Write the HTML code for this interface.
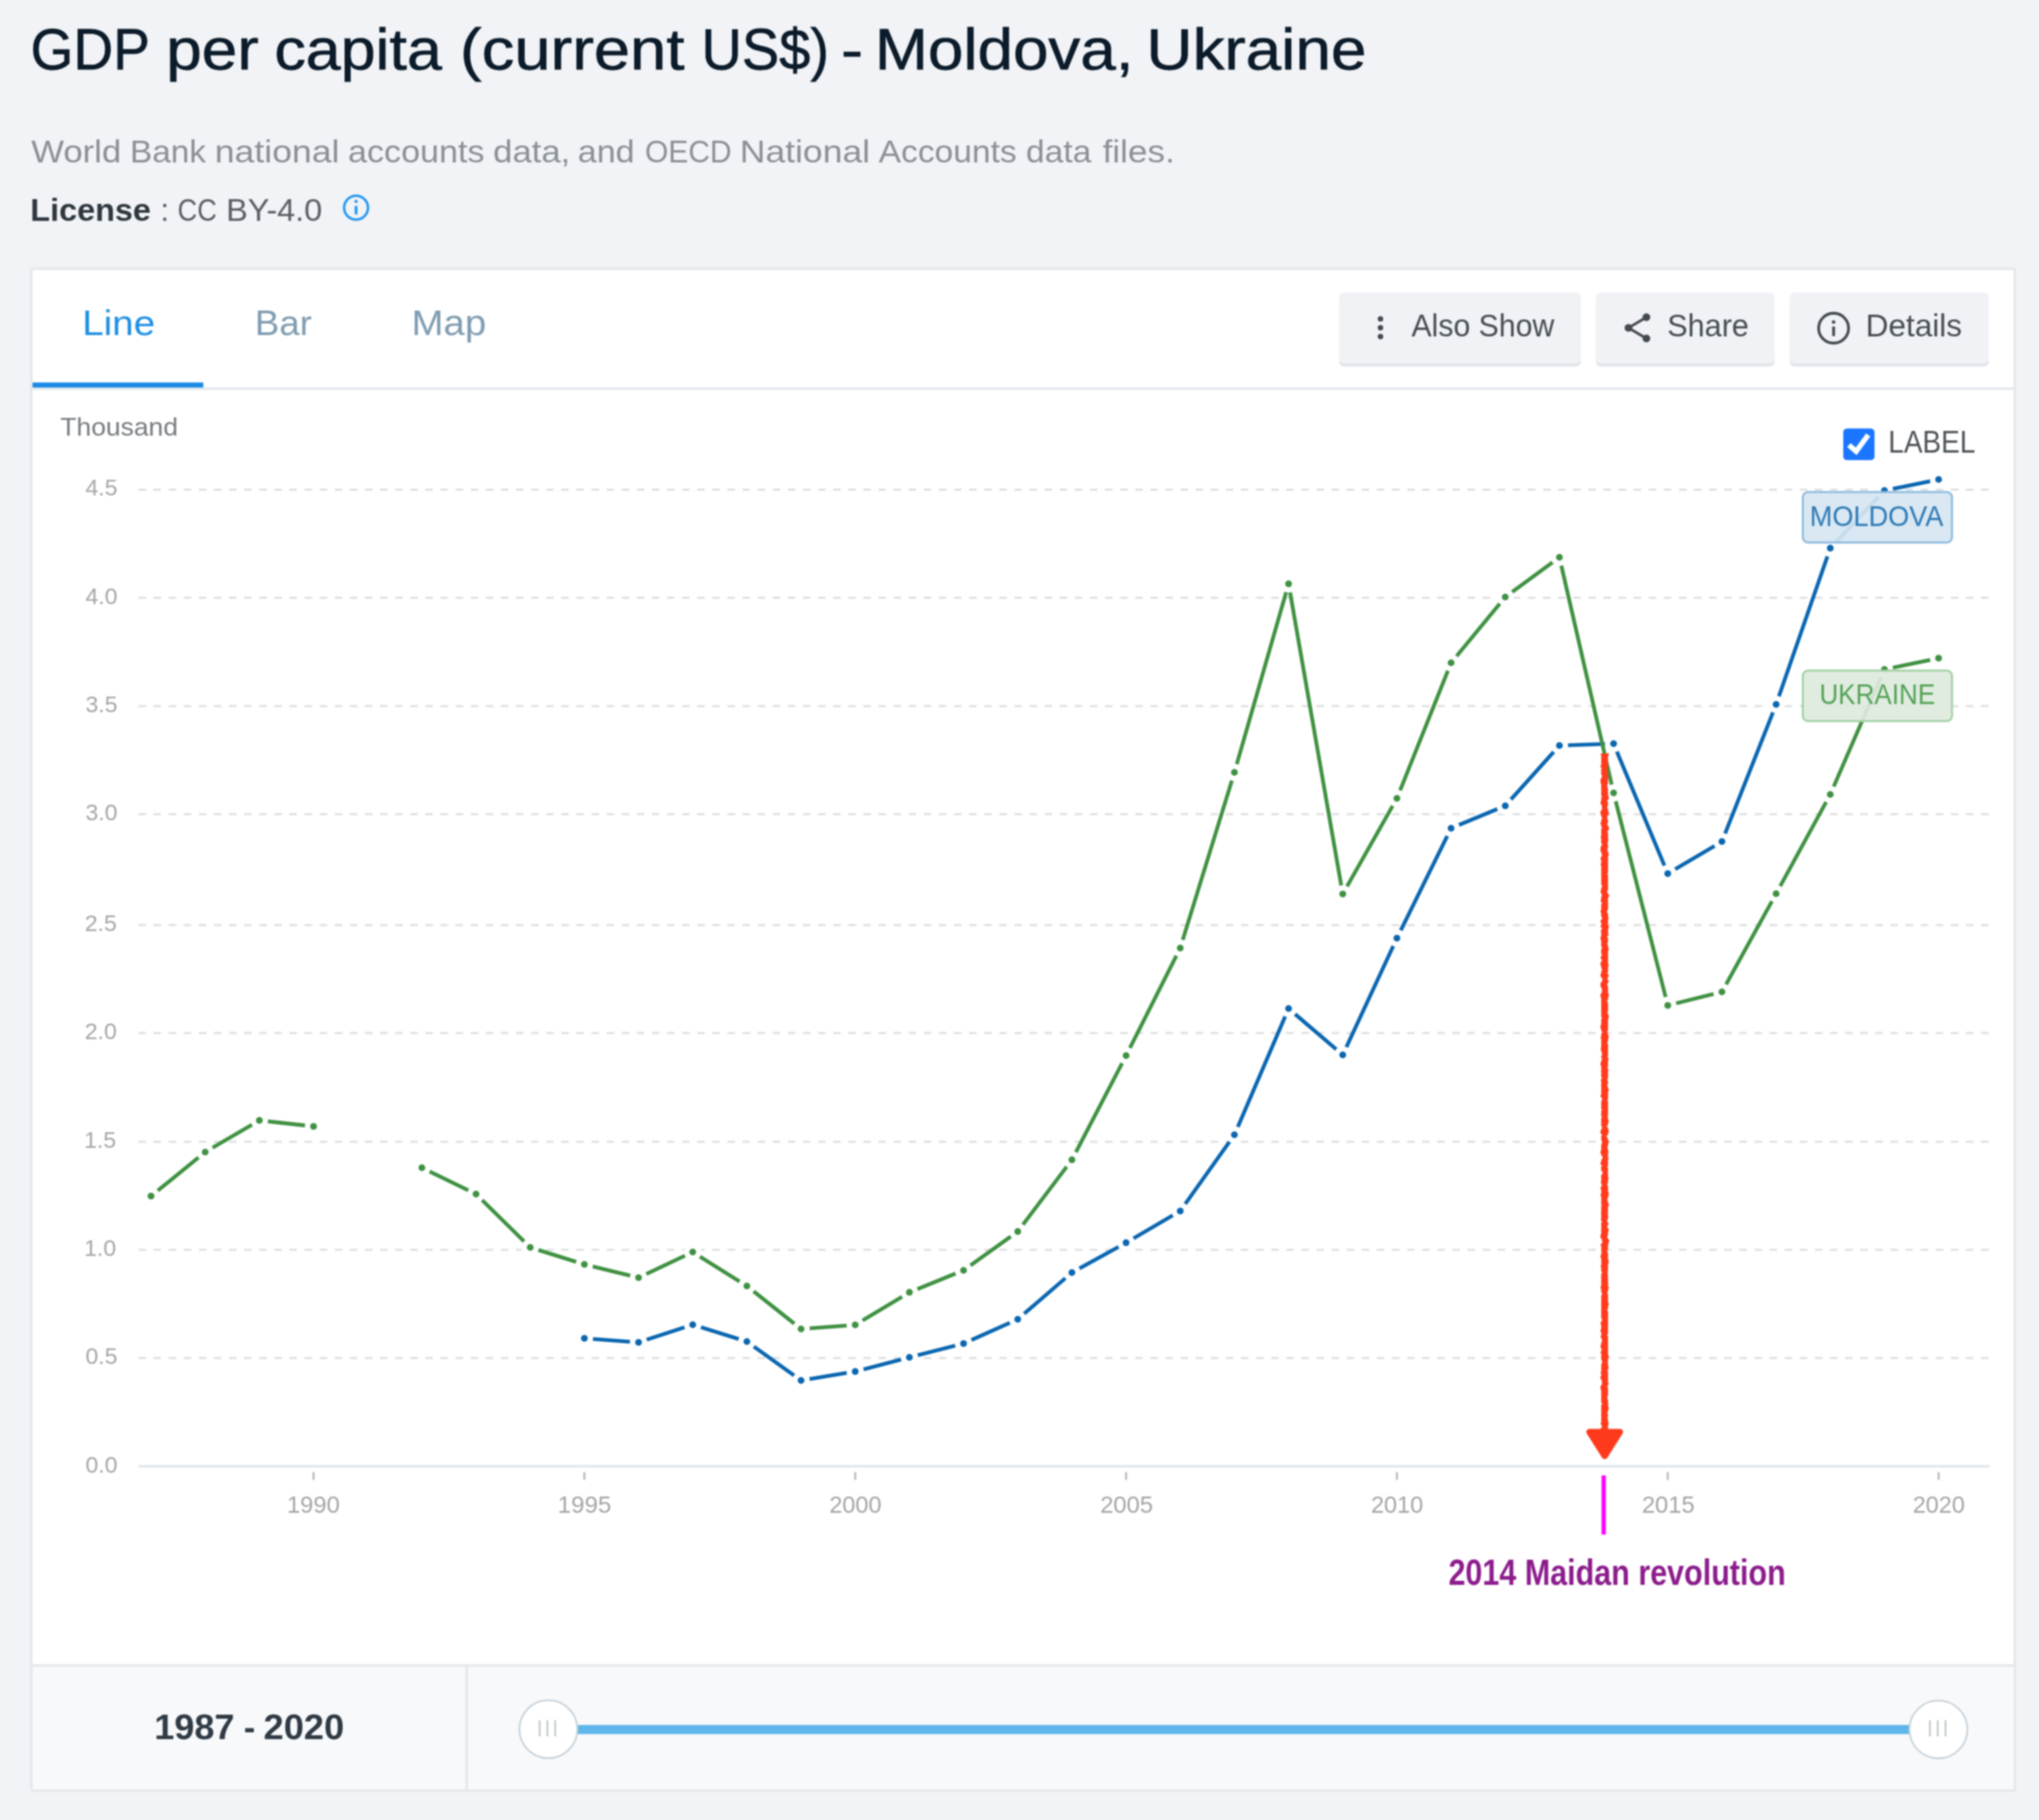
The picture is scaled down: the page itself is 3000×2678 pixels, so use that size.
<!DOCTYPE html>
<html lang="en"><head><meta charset="utf-8"><title>GDP per capita (current US$) - Moldova, Ukraine</title>
<style>
html,body{margin:0;padding:0;background:#f1f3f6;}
body{width:3000px;height:2678px;overflow:hidden;font-family:"Liberation Sans",sans-serif;}
svg{display:block;position:absolute;left:0;top:0;filter:blur(0.9px);}
svg text{font-family:"Liberation Sans",sans-serif;}
</style></head><body>
<svg width="3000" height="2678" viewBox="0 0 3000 2678">
<rect x="0" y="0" width="3000" height="2678" fill="#f1f3f6"/>
<!-- heading -->
<g>
<text transform="translate(44.97,102.0) scale(0.9583,1)" font-size="84.5" fill="#0b1b2a" stroke="#0b1b2a" stroke-width="0.9">GDP</text>
<text transform="translate(244.42,102.0) scale(1.1155,1)" font-size="84.5" fill="#0b1b2a" stroke="#0b1b2a" stroke-width="0.9">per</text>
<text transform="translate(403.63,102.0) scale(1.0932,1)" font-size="84.5" fill="#0b1b2a" stroke="#0b1b2a" stroke-width="0.9">capita</text>
<text transform="translate(676.83,102.0) scale(1.1343,1)" font-size="84.5" fill="#0b1b2a" stroke="#0b1b2a" stroke-width="0.9">(current</text>
<text transform="translate(1031.95,102.0) scale(0.9757,1)" font-size="84.5" fill="#0b1b2a" stroke="#0b1b2a" stroke-width="0.9">US$)</text>
<text transform="translate(1237.40,102.0) scale(1.1500,1)" font-size="84.5" fill="#0b1b2a" stroke="#0b1b2a" stroke-width="0.9">-</text>
<text transform="translate(1287.13,102.0) scale(1.1101,1)" font-size="84.5" fill="#0b1b2a" stroke="#0b1b2a" stroke-width="0.9">Moldova,</text>
<text transform="translate(1686.83,102.0) scale(1.1113,1)" font-size="84.5" fill="#0b1b2a" stroke="#0b1b2a" stroke-width="0.9">Ukraine</text>
</g>
<g>
<text transform="translate(45.90,239.3) scale(1.1103,1)" font-size="46" fill="#8b9094">World</text>
<text transform="translate(191.23,239.3) scale(1.0670,1)" font-size="46" fill="#8b9094">Bank</text>
<text transform="translate(315.98,239.3) scale(1.1387,1)" font-size="46" fill="#8b9094">national</text>
<text transform="translate(512.12,239.3) scale(1.0900,1)" font-size="46" fill="#8b9094">accounts</text>
<text transform="translate(725.48,239.3) scale(1.1104,1)" font-size="46" fill="#8b9094">data,</text>
<text transform="translate(850.02,239.3) scale(1.0903,1)" font-size="46" fill="#8b9094">and</text>
<text transform="translate(948.88,239.3) scale(0.9605,1)" font-size="46" fill="#8b9094">OECD</text>
<text transform="translate(1088.46,239.3) scale(1.1358,1)" font-size="46" fill="#8b9094">National</text>
<text transform="translate(1292.80,239.3) scale(1.0734,1)" font-size="46" fill="#8b9094">Accounts</text>
<text transform="translate(1509.55,239.3) scale(1.0727,1)" font-size="46" fill="#8b9094">data</text>
<text transform="translate(1622.18,239.3) scale(1.1247,1)" font-size="46" fill="#8b9094">files.</text>
</g>
<g>
<text transform="translate(44.59,325.0) scale(1.0359,1)" font-size="46" font-weight="bold" fill="#2f373e">License</text>
<text x="236" y="325" font-size="46" fill="#5a5f63">:</text>
<text transform="translate(261.26,325.0) scale(0.8694,1)" font-size="46" fill="#5a5f63">CC</text>
<text transform="translate(332.65,325.0) scale(1.0374,1)" font-size="46" fill="#5a5f63">BY-4.0</text>
</g>
<g fill="none" stroke="#2196f3"><circle cx="523.9" cy="305.6" r="17.6" stroke-width="3.6"/><line x1="523.9" y1="303" x2="523.9" y2="315.5" stroke-width="4"/><circle cx="523.9" cy="296.3" r="2.4" fill="#2196f3" stroke="none"/></g>
<!-- card -->
<rect x="46.1" y="395.3" width="2918.4" height="2239.3" rx="2.5" fill="#ffffff" stroke="#e3e8ec" stroke-width="3.7"/>
<rect x="48" y="2451" width="2914.6" height="181.8" fill="#f8f9fa"/>
<line x1="48" y1="2450.6" x2="2962.6" y2="2450.6" stroke="#e3e8ec" stroke-width="3.7"/>
<line x1="686.8" y1="2450.6" x2="686.8" y2="2633" stroke="#e3e8ec" stroke-width="3.7"/>
<line x1="48" y1="571.9" x2="2962.6" y2="571.9" stroke="#e3e9ed" stroke-width="3.7"/>
<rect x="48" y="562.8" width="251.2" height="7.4" fill="#1a8ae5"/>
<!-- tabs -->
<g>
<text transform="translate(120.96,492.6) scale(1.0849,1)" font-size="52.3" fill="#1e90e3">Line</text>
<text transform="translate(375.09,492.6) scale(1.0286,1)" font-size="52.3" fill="#7f9cb1">Bar</text>
<text transform="translate(605.48,492.6) scale(1.0792,1)" font-size="52.3" fill="#7f9cb1">Map</text>
</g>
<!-- buttons -->
<g>
<rect x="1970.5" y="436" width="355.5" height="103.5" rx="7" fill="#e3e6eb"/>
<rect x="1970.5" y="430.3" width="355.5" height="104.2" rx="7" fill="#f0f2f6"/>
<rect x="2348.3" y="436" width="262.7" height="103.5" rx="7" fill="#e3e6eb"/>
<rect x="2348.3" y="430.3" width="262.7" height="104.2" rx="7" fill="#f0f2f6"/>
<rect x="2633.5" y="436" width="292.5" height="103.5" rx="7" fill="#e3e6eb"/>
<rect x="2633.5" y="430.3" width="292.5" height="104.2" rx="7" fill="#f0f2f6"/>
</g>
<g fill="#434a50">
<circle cx="2031.1" cy="469.3" r="4"/><circle cx="2031.1" cy="482.2" r="4"/><circle cx="2031.1" cy="495.2" r="4"/>
</g>
<g fill="#434a50" stroke="#434a50"><circle cx="2422.4" cy="466.8" r="5.7" stroke="none"/><circle cx="2396" cy="482.4" r="5.7" stroke="none"/><circle cx="2422.4" cy="498" r="5.7" stroke="none"/><polyline points="2422.4,466.8 2396,482.4 2422.4,498" fill="none" stroke-width="3.9"/></g>
<g fill="none" stroke="#434a50"><circle cx="2697.8" cy="482.9" r="22" stroke-width="4.1"/><line x1="2697.8" y1="480.5" x2="2697.8" y2="494.5" stroke-width="4.2"/><circle cx="2697.8" cy="473.8" r="2.6" fill="#434a50" stroke="none"/></g>
<g>
<text transform="translate(2076.70,495.4) scale(0.9668,1)" font-size="46" fill="#464d53">Also Show</text>
<text transform="translate(2453.04,495.4) scale(0.9790,1)" font-size="46" fill="#464d53">Share</text>
<text transform="translate(2745.07,495.4) scale(1.0074,1)" font-size="46" fill="#464d53">Details</text>
</g>
<!-- chart -->
<text transform="translate(88.77,640.6) scale(1.0297,1)" font-size="37.8" fill="#767b80">Thousand</text>
<g stroke="#dfdfdf" stroke-width="3" stroke-dasharray="11.1 11.122">
<line x1="203.6" y1="1998.3" x2="2929" y2="1998.3"/>
<line x1="203.6" y1="1839" x2="2929" y2="1839"/>
<line x1="203.6" y1="1680" x2="2929" y2="1680"/>
<line x1="203.6" y1="1520" x2="2929" y2="1520"/>
<line x1="203.6" y1="1361.2" x2="2929" y2="1361.2"/>
<line x1="203.6" y1="1198" x2="2929" y2="1198"/>
<line x1="203.6" y1="1039" x2="2929" y2="1039"/>
<line x1="203.6" y1="879.5" x2="2929" y2="879.5"/>
<line x1="203.6" y1="720.4" x2="2929" y2="720.4"/>
</g>
<line x1="204" y1="2157.5" x2="2927" y2="2157.5" stroke="#dfe5ea" stroke-width="3.7"/>
<g>
<text transform="translate(125.70,2166.5) scale(1.0000,1)" font-size="34" fill="#a6a6a6">0.0</text>
<text transform="translate(125.70,2007.3) scale(1.0000,1)" font-size="34" fill="#a6a6a6">0.5</text>
<text transform="translate(123.70,1848.0) scale(1.0000,1)" font-size="34" fill="#a6a6a6">1.0</text>
<text transform="translate(123.70,1689.0) scale(1.0000,1)" font-size="34" fill="#a6a6a6">1.5</text>
<text transform="translate(124.70,1529.0) scale(1.0000,1)" font-size="34" fill="#a6a6a6">2.0</text>
<text transform="translate(124.70,1370.2) scale(1.0000,1)" font-size="34" fill="#a6a6a6">2.5</text>
<text transform="translate(125.70,1207.0) scale(1.0000,1)" font-size="34" fill="#a6a6a6">3.0</text>
<text transform="translate(125.70,1048.0) scale(1.0000,1)" font-size="34" fill="#a6a6a6">3.5</text>
<text transform="translate(125.70,888.5) scale(1.0000,1)" font-size="34" fill="#a6a6a6">4.0</text>
<text transform="translate(125.70,729.4) scale(1.0000,1)" font-size="34" fill="#a6a6a6">4.5</text>
</g>
<g>
<line x1="461.3" y1="2166" x2="461.3" y2="2177.5" stroke="#b5bcc2" stroke-width="3"/>
<text transform="translate(422.14,2226.0) scale(0.9867,1)" font-size="35.5" fill="#a6a6a6">1990</text>
<line x1="859.8" y1="2166" x2="859.8" y2="2177.5" stroke="#b5bcc2" stroke-width="3"/>
<text transform="translate(820.60,2226.0) scale(1.0000,1)" font-size="35.5" fill="#a6a6a6">1995</text>
<line x1="1258.3" y1="2166" x2="1258.3" y2="2177.5" stroke="#b5bcc2" stroke-width="3"/>
<text transform="translate(1220.15,2226.0) scale(0.9737,1)" font-size="35.5" fill="#a6a6a6">2000</text>
<line x1="1656.8" y1="2166" x2="1656.8" y2="2177.5" stroke="#b5bcc2" stroke-width="3"/>
<text transform="translate(1618.63,2226.0) scale(0.9867,1)" font-size="35.5" fill="#a6a6a6">2005</text>
<line x1="2055.3" y1="2166" x2="2055.3" y2="2177.5" stroke="#b5bcc2" stroke-width="3"/>
<text transform="translate(2017.15,2226.0) scale(0.9737,1)" font-size="35.5" fill="#a6a6a6">2010</text>
<line x1="2453.8" y1="2166" x2="2453.8" y2="2177.5" stroke="#b5bcc2" stroke-width="3"/>
<text transform="translate(2415.63,2226.0) scale(0.9867,1)" font-size="35.5" fill="#a6a6a6">2015</text>
<line x1="2852.3" y1="2166" x2="2852.3" y2="2177.5" stroke="#b5bcc2" stroke-width="3"/>
<text transform="translate(2814.15,2226.0) scale(0.9737,1)" font-size="35.5" fill="#a6a6a6">2020</text>
</g>

<!-- checkbox -->
<rect x="2712" y="630.5" width="46" height="46.5" rx="5.5" fill="#1b76ff"/>
<polyline points="2720.3,654.8 2731,664.2 2748.7,640" fill="none" stroke="#fff" stroke-width="7.6" stroke-linejoin="miter"/>
<text transform="translate(2778.22,665.9) scale(0.8957,1)" font-size="46" fill="#4d545a">LABEL</text>

<!-- series: Moldova then Ukraine -->
<g fill="none" stroke="#0a66b0" stroke-width="5.6" stroke-linejoin="round">
<polyline points="859.8,1969.3 939.5,1975.2 1019.2,1949.2 1098.9,1974.0 1178.6,2031.3 1258.3,2018.1 1338.0,1997.3 1417.7,1976.9 1497.4,1941.2 1577.1,1872.5 1656.8,1828.6 1736.5,1781.9 1816.2,1669.8 1895.9,1484.0 1975.6,1552.2 2055.3,1380.4 2135.0,1218.7 2214.7,1185.7 2294.4,1097.0 2374.1,1094.3 2453.8,1285.4 2533.5,1238.3 2613.2,1036.5 2692.9,806.6 2772.6,721.8 2852.3,705.5"/>
</g>
<g fill="#0a66b0" stroke="#fff" stroke-width="7.8">
<circle cx="859.8" cy="1969.3" r="8.9"/>
<circle cx="939.5" cy="1975.2" r="8.9"/>
<circle cx="1019.2" cy="1949.2" r="8.9"/>
<circle cx="1098.9" cy="1974.0" r="8.9"/>
<circle cx="1178.6" cy="2031.3" r="8.9"/>
<circle cx="1258.3" cy="2018.1" r="8.9"/>
<circle cx="1338.0" cy="1997.3" r="8.9"/>
<circle cx="1417.7" cy="1976.9" r="8.9"/>
<circle cx="1497.4" cy="1941.2" r="8.9"/>
<circle cx="1577.1" cy="1872.5" r="8.9"/>
<circle cx="1656.8" cy="1828.6" r="8.9"/>
<circle cx="1736.5" cy="1781.9" r="8.9"/>
<circle cx="1816.2" cy="1669.8" r="8.9"/>
<circle cx="1895.9" cy="1484.0" r="8.9"/>
<circle cx="1975.6" cy="1552.2" r="8.9"/>
<circle cx="2055.3" cy="1380.4" r="8.9"/>
<circle cx="2135.0" cy="1218.7" r="8.9"/>
<circle cx="2214.7" cy="1185.7" r="8.9"/>
<circle cx="2294.4" cy="1097.0" r="8.9"/>
<circle cx="2374.1" cy="1094.3" r="8.9"/>
<circle cx="2453.8" cy="1285.4" r="8.9"/>
<circle cx="2533.5" cy="1238.3" r="8.9"/>
<circle cx="2613.2" cy="1036.5" r="8.9"/>
<circle cx="2692.9" cy="806.6" r="8.9"/>
<circle cx="2772.6" cy="721.8" r="8.9"/>
<circle cx="2852.3" cy="705.5" r="8.9"/>
</g>
<g fill="none" stroke="#3f9142" stroke-width="5.6" stroke-linejoin="round">
<polyline points="222.2,1759.9 301.9,1695.2 381.6,1648.6 461.3,1657.4"/>
<polyline points="620.7,1718.2 700.4,1757.0 780.1,1835.5 859.8,1860.5 939.5,1880.0 1019.2,1842.3 1098.9,1892.3 1178.6,1955.5 1258.3,1949.5 1338.0,1901.6 1417.7,1869.2 1497.4,1812.1 1577.1,1706.6 1656.8,1553.3 1736.5,1395.0 1816.2,1136.5 1895.9,859.1 1975.6,1315.4 2055.3,1174.7 2135.0,975.2 2214.7,878.5 2294.4,820.0 2374.1,1166.8 2453.8,1479.4 2533.5,1459.5 2613.2,1315.0 2692.9,1169.0 2772.6,985.0 2852.3,968.4"/>
</g>
<g fill="#3f9142" stroke="#fff" stroke-width="7.8">
<circle cx="222.2" cy="1759.9" r="8.9"/>
<circle cx="301.9" cy="1695.2" r="8.9"/>
<circle cx="381.6" cy="1648.6" r="8.9"/>
<circle cx="461.3" cy="1657.4" r="8.9"/>
<circle cx="620.7" cy="1718.2" r="8.9"/>
<circle cx="700.4" cy="1757.0" r="8.9"/>
<circle cx="780.1" cy="1835.5" r="8.9"/>
<circle cx="859.8" cy="1860.5" r="8.9"/>
<circle cx="939.5" cy="1880.0" r="8.9"/>
<circle cx="1019.2" cy="1842.3" r="8.9"/>
<circle cx="1098.9" cy="1892.3" r="8.9"/>
<circle cx="1178.6" cy="1955.5" r="8.9"/>
<circle cx="1258.3" cy="1949.5" r="8.9"/>
<circle cx="1338.0" cy="1901.6" r="8.9"/>
<circle cx="1417.7" cy="1869.2" r="8.9"/>
<circle cx="1497.4" cy="1812.1" r="8.9"/>
<circle cx="1577.1" cy="1706.6" r="8.9"/>
<circle cx="1656.8" cy="1553.3" r="8.9"/>
<circle cx="1736.5" cy="1395.0" r="8.9"/>
<circle cx="1816.2" cy="1136.5" r="8.9"/>
<circle cx="1895.9" cy="859.1" r="8.9"/>
<circle cx="1975.6" cy="1315.4" r="8.9"/>
<circle cx="2055.3" cy="1174.7" r="8.9"/>
<circle cx="2135.0" cy="975.2" r="8.9"/>
<circle cx="2214.7" cy="878.5" r="8.9"/>
<circle cx="2294.4" cy="820.0" r="8.9"/>
<circle cx="2374.1" cy="1166.8" r="8.9"/>
<circle cx="2453.8" cy="1479.4" r="8.9"/>
<circle cx="2533.5" cy="1459.5" r="8.9"/>
<circle cx="2613.2" cy="1315.0" r="8.9"/>
<circle cx="2692.9" cy="1169.0" r="8.9"/>
<circle cx="2772.6" cy="985.0" r="8.9"/>
<circle cx="2852.3" cy="968.4" r="8.9"/>
</g>

<!-- labels -->
<rect x="2652.5" y="724" width="219.5" height="74.2" rx="7.5" fill="#d6e6f2" fill-opacity="0.92" stroke="#8dbbdf" stroke-width="3"/>
<text transform="translate(2662.82,773.5) scale(0.9594,1)" font-size="41.6" fill="#2f7ab5">MOLDOVA</text>
<rect x="2652.5" y="986.8" width="219.5" height="74.2" rx="7.5" fill="#deeade" fill-opacity="0.92" stroke="#a2d1a4" stroke-width="3"/>
<text transform="translate(2676.94,1036.3) scale(0.9211,1)" font-size="41.6" fill="#55a258">UKRAINE</text>

<!-- annotation -->
<defs><filter id="rough" filterUnits="userSpaceOnUse" x="2330" y="1100" width="62" height="1060"><feTurbulence type="fractalNoise" baseFrequency="0.09 0.13" numOctaves="2" seed="7" result="n"/><feDisplacementMap in="SourceGraphic" in2="n" scale="5.5" xChannelSelector="R" yChannelSelector="G"/></filter></defs>
<g filter="url(#rough)"><rect x="2355.9" y="1107.6" width="10" height="1000" fill="#ff3a1c"/></g>
<polygon points="2338.5,2107 2383.5,2107 2361,2142.5" fill="#ff3a1c" stroke="#ff3a1c" stroke-width="9" stroke-linejoin="round"/>
<line x1="2359.5" y1="2171" x2="2359.5" y2="2258" stroke="#ff00ff" stroke-width="6.2"/>
<text transform="translate(2131.15,2332.4) scale(0.8235,1)" font-size="54.5" font-weight="bold" fill="#8c1c8c">2014 Maidan revolution</text>

<!-- footer slider -->
<g>
<text transform="translate(227.11,2559.0) scale(1.0303,1)" font-size="51.5" font-weight="bold" fill="#2f3a44">1987</text>
<text transform="translate(358.75,2559.0) scale(0.9769,1)" font-size="51.5" font-weight="bold" fill="#2f3a44">-</text>
<text transform="translate(387.73,2559.0) scale(1.0360,1)" font-size="51.5" font-weight="bold" fill="#2f3a44">2020</text>
</g>
<rect x="808" y="2538.2" width="2044" height="13.4" fill="#5fb6ea"/>
<g fill="#fff" stroke="#c6d3dc" stroke-width="2.6"><circle cx="806.8" cy="2544.4" r="42.6"/><circle cx="2852" cy="2544.8" r="42.6"/></g>
<g stroke="#c0c6ca" stroke-width="2.6">
<line x1="794" y1="2531" x2="794" y2="2555"/><line x1="805.3" y1="2531" x2="805.3" y2="2555"/><line x1="816.9" y1="2531" x2="816.9" y2="2555"/>
<line x1="2839.5" y1="2531" x2="2839.5" y2="2555"/><line x1="2851" y1="2531" x2="2851" y2="2555"/><line x1="2862.5" y1="2531" x2="2862.5" y2="2555"/>
</g>
</svg>
</body></html>
